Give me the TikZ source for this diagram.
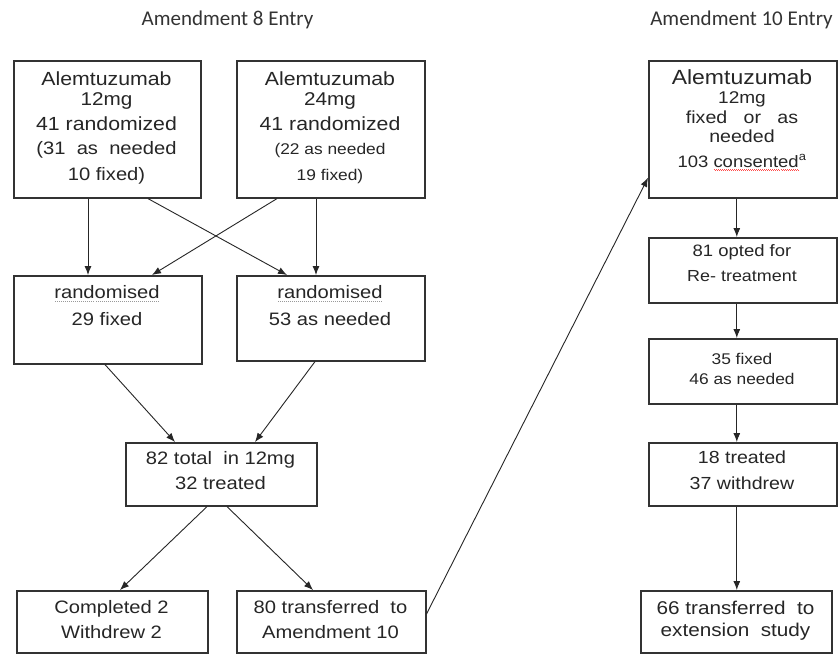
\documentclass[tikz,border=0pt]{standalone}
\usepackage{fontspec}
\setmainfont{Liberation Sans}[FakeStretch=1.12]
\newfontfamily\titlefont{Carlito}
\usetikzlibrary{arrows.meta,calc}
\newcommand\redwave[1]{\leavevmode\setbox0\hbox{#1}\rlap{\raisebox{-3.5pt}{\color{red!70}\hbox to \wd0{\xleaders\hbox to 2pt{\raisebox{0.6pt}{\rule{1pt}{0.6pt}}\rule{1pt}{0.6pt}}\hfill}}}\box0}
\newcommand\graydot[1]{\leavevmode\setbox0\hbox{#1}\rlap{\raisebox{-3pt}{\color{gray!80}\hbox to \wd0{\xleaders\hbox to 2pt{\hss\rule{0.7pt}{0.7pt}\hss}\hfill}}}\box0}
\newcommand\fs[2]{\fontsize{#1}{#2}\selectfont}
\begin{document}
\begin{tikzpicture}[x=1pt,y=-1pt,
  box/.style={draw=black!80, line width=1.6pt, inner sep=0pt, anchor=north west},
  txt/.style={align=center, inner sep=0pt, text=black!85, font=\fs{18}{24}},
  ttl/.style={inner sep=0pt, text=black!80, font=\titlefont\fs{21}{24}},
  arr/.style={draw=black!85, line width=0.9pt, -{Latex[length=9pt,width=7pt]}}]
\useasboundingbox[fill=white] (0,0) rectangle (838,654);

% titles
\node[ttl] (t8) at (227.5,20) {Amendment 8 Entry};
\node[ttl] (t10) at (741.5,20) {Amendment 10 Entry};

% boxes
\node[box, minimum width=187pt, minimum height=137pt] (A) at (13,60) {};
\node[box, minimum width=188pt, minimum height=137pt] (B) at (236,60) {};
\node[box, minimum width=188pt, minimum height=88pt] (R1) at (13,275) {};
\node[box, minimum width=188pt, minimum height=85pt] (R2) at (236,275) {};
\node[box, minimum width=191pt, minimum height=63pt] (T) at (125,442) {};
\node[box, minimum width=191pt, minimum height=62pt] (C) at (16,590) {};
\node[box, minimum width=189pt, minimum height=62pt] (D) at (236,590) {};
\node[box, minimum width=188pt, minimum height=137pt] (E) at (648,60) {};
\node[box, minimum width=188pt, minimum height=65pt] (F) at (648,237) {};
\node[box, minimum width=188pt, minimum height=65pt] (G) at (648,338) {};
\node[box, minimum width=188pt, minimum height=63pt] (H) at (648,442) {};
\node[box, minimum width=191pt, minimum height=62pt] (I) at (640,590) {};

% texts
\node[txt] (At) at (106.5,127.5) {{\fs{19}{24}Alemtuzumab}\\[-4pt]{\fs{18.5}{24}12mg}\\[1pt]{\fs{19}{24}41 randomized}\\(31~ as~ needed\\[2pt]10 fixed)};
\node[txt] (Bt) at (330,127.5) {{\fs{19}{24}Alemtuzumab}\\[-4pt]{\fs{18.5}{24}24mg}\\[1pt]{\fs{19}{24}41 randomized}\\{\fs{15.5}{24}(22 as needed}\\[2pt]{\fs{15.5}{24}19 fixed)}};
\node[txt] (R1t) at (107,306) {\graydot{randomised}\\[3pt]29 fixed};
\node[txt] (R2t) at (330,306) {\graydot{randomised}\\[3pt]53 as needed};
\node[txt] (Tt) at (220.5,470.5) {82 total~ in 12mg\\[1pt]32 treated};
\node[txt] (Ct) at (111.5,620) {Completed 2\\[1pt]Withdrew 2};
\node[txt] (Dt) at (330.5,620) {80 transferred~ to\\[1pt]Amendment 10};
\node[txt, font=\fs{17.5}{19.5}] (Et) at (742,120) {{\fs{20.5}{19.5}Alemtuzumab}\\{\fs{17}{19.5}12mg}\\fixed~~ or~~ as\\needed\\[5pt]{\fs{16.5}{19.5}103 \redwave{consented}\textsuperscript{a}}};
\node[txt, font=\fs{16}{25}] (Ft) at (742,263) {{\fs{16.5}{25}81 opted for}\\Re- treatment};
\node[txt, font=\fs{15.5}{20}] (Gt) at (742,368.5) {35 fixed\\46 as needed};
\node[txt, font=\fs{17.5}{26}] (Ht) at (742,470.5) {18 treated\\37 withdrew};
\node[txt, font=\fs{18.5}{22}] (It) at (735.5,621) {66 transferred~ to\\extension~ study};

% connectors
\draw[arr] ($(A.south west)+(75,0)$) -- ($(R1.north west)+(75,0)$);
\draw[arr] ($(B.south west)+(80,0)$) -- ($(R2.north west)+(80,0)$);
\draw[arr] ($(A.south west)+(135,0)$) -- ($(R2.north west)+(51,0)$);
\draw[arr] ($(B.south west)+(41,0)$) -- ($(R1.north west)+(139,0)$);
\draw[arr] ($(R1.south west)+(92,0)$) -- ($(T.north west)+(50,0)$);
\draw[arr] ($(R2.south west)+(79,0)$) -- ($(T.north west)+(130,0)$);
\draw[arr] ($(T.south west)+(82,0)$) -- ($(C.north west)+(104,0)$);
\draw[arr] ($(T.south west)+(102,0)$) -- ($(D.north west)+(77,0)$);
\draw[arr] ($(D.east)+(0,-8)$) -- ($(E.west)+(0,48.5)$);
\draw[arr] ($(E.south)+(-6,0)$) -- ($(F.north)+(-6,0)$);
\draw[arr] ($(F.south)+(-6,0)$) -- ($(G.north)+(-6,0)$);
\draw[arr] ($(G.south)+(-6,0)$) -- ($(H.north)+(-6,0)$);
\draw[arr] ($(H.south)+(-6,0)$) -- ($(I.north)+(0.5,0)$);
\end{tikzpicture}
\end{document}
